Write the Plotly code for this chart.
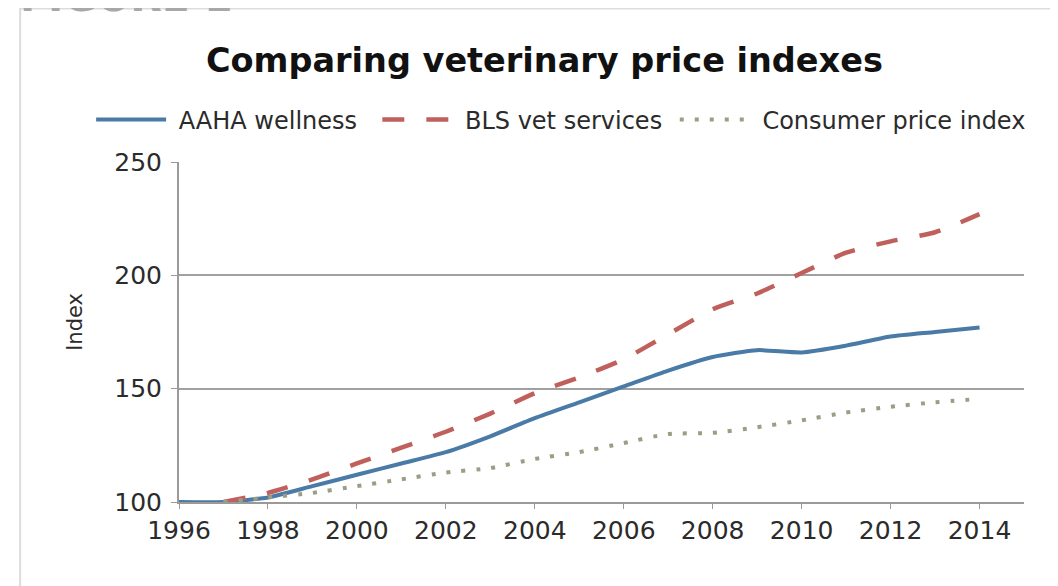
import plotly.graph_objects as go

years = list(range(1996, 2015))
aaha = [100, 100, 102, 107, 112, 117, 122, 129, 137, 144, 151, 158, 164, 167, 166, 169, 173, 175, 177]
bls_years = list(range(1997, 2015))
bls = [100, 104, 110, 117, 124, 131, 139, 148, 155, 163, 174, 185, 192, 201, 210, 215, 219, 227]
cpi_years = list(range(1997, 2015))
cpi = [100, 102, 104, 107, 110, 113, 115, 119, 122, 126, 130, 130.5, 133, 136, 139.5, 142, 144, 145.5]

x_ticks = list(range(1996, 2015, 2))
y_ticks = [100, 150, 200, 250]

FONT = "DejaVu Sans"
TXT = "#2b2b2b"
NB = "\u00a0"

fig = go.Figure()
fig.add_trace(go.Scatter(x=years, y=aaha, name=NB + "AAHA wellness" + NB * 2, mode="lines",
                         line=dict(color="#4a7aa6", width=4, shape="spline", smoothing=0.6)))
fig.add_trace(go.Scatter(x=bls_years, y=bls, name=NB + "BLS vet services" + NB, mode="lines",
                         line=dict(color="#c0605c", width=4.5, dash="22px,22px", shape="spline", smoothing=0.6)))
fig.add_trace(go.Scatter(x=cpi_years, y=cpi, name=NB + "Consumer price index", mode="lines",
                         line=dict(color="#9a9e84", width=4, dash="4px,11px", shape="spline", smoothing=0.6)))

fig.update_layout(
    width=1058, height=586,
    margin=dict(l=171, r=42, t=154, b=92, autoexpand=False),
    paper_bgcolor="white", plot_bgcolor="white",
    font=dict(family=FONT, color=TXT),
    title=dict(text="<b>Comparing veterinary price indexes</b>", x=0.507, xanchor="center",
               y=0.911, yanchor="middle", font=dict(size=33.5, color="#111", family=FONT)),
    showlegend=True,
    legend=dict(orientation="h", x=-0.104, xanchor="left", y=1.1235, yanchor="middle",
                font=dict(size=24, color=TXT, family=FONT), itemwidth=70,
                bgcolor="rgba(0,0,0,0)"),
    xaxis=dict(range=[1996, 2015], tickvals=x_ticks, ticktext=[str(v) for v in x_ticks],
               automargin=False,
               showgrid=False, zeroline=False, showline=True, linecolor="#9a9a9a", linewidth=2,
               ticks="outside", ticklen=5, tickcolor="#9a9a9a", tickwidth=1,
               tickfont=dict(size=25, color=TXT, family=FONT)),
    yaxis=dict(range=[100, 250], tickvals=y_ticks, showgrid=True, gridcolor="#a0a0a0", gridwidth=2,
               automargin=False, ticklabelstandoff=4,
               zeroline=False, showline=True, linecolor="#9a9a9a", linewidth=2,
               ticks="outside", ticklen=6, tickcolor="#9a9a9a",
               tickfont=dict(size=25, color=TXT, family=FONT)),
)

# y-axis title
fig.add_annotation(text="Index", xref="paper", yref="paper", x=-0.123, y=0.53,
                   xanchor="center", yanchor="middle", textangle=-90, showarrow=False,
                   font=dict(size=21, color=TXT, family=FONT))
# outer frame
fig.add_shape(type="rect", xref="paper", yref="paper", x0=-0.188, x1=1.1, y0=-0.3, y1=1.4515,
              line=dict(color="#dcdcdc", width=2), fillcolor="rgba(0,0,0,0)", layer="below")
# cut-off figure label at top
fig.add_annotation(text="<b>FIGURE 1</b>", xref="paper", yref="paper", x=-0.19, xanchor="left",
                   y=1.409, yanchor="bottom", showarrow=False,
                   font=dict(size=41, color="#a8a8a8", family=FONT))

fig.write_html("out.html")
